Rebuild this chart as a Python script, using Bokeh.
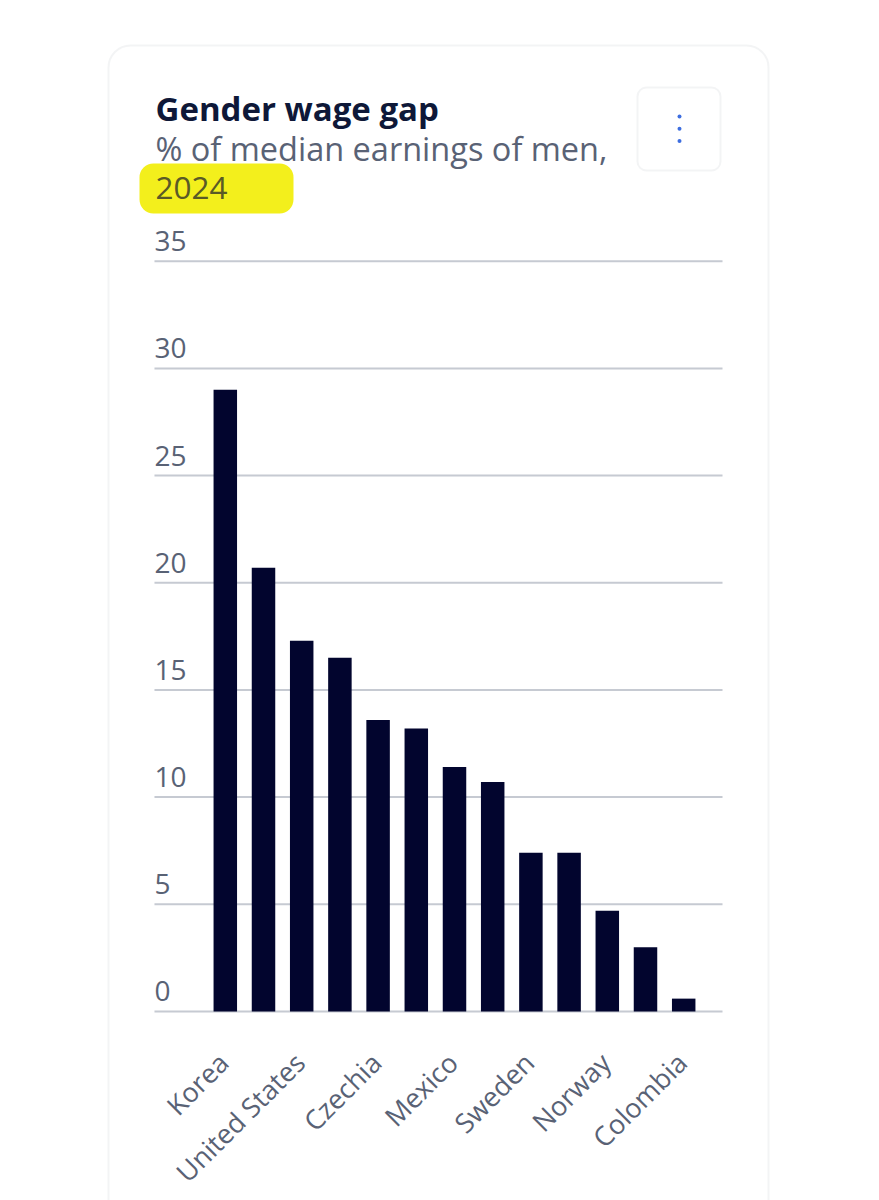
import math
from bokeh.plotting import figure
from bokeh.models import Range1d, BoxAnnotation, Label, ColumnDataSource
from bokeh.core.properties import value
from bokeh.embed import file_html
from bokeh.resources import INLINE

# ---- data ----
countries = ["Korea", "Japan", "United States", "Canada", "Czechia", "Germany", "Mexico",
             "France", "Sweden", "Denmark", "Norway", "Italy", "Colombia"]
gap = [29.0, 20.7, 17.3, 16.5, 13.6, 13.2, 11.4, 10.7, 7.4, 7.4, 4.7, 3.0, 0.6]
y_ticks = [0, 5, 10, 15, 20, 25, 30, 35]
title_text = "Gender wage gap"
subtitle_text = "% of median earnings of men,"
year_text = "2024"

# ---- styles ----
BAR = "#02052e"
GRID = "#c6cad2"
LABEL = "#596275"
TITLE = "#0e1838"
FONT = "Open Sans"

W, H = 863, 1200
positions = list(range(1, len(countries) + 1))
X0, X1 = -0.854, 14.016          # extent of the chart area (grid lines)

p = figure(width=W, height=H, output_backend="svg", toolbar_location=None,
           x_range=Range1d(-4.885, 17.707), y_range=Range1d(-8.817, 47.161),
           x_axis_location=None, y_axis_location=None, min_border=0)
p.outline_line_color = None
p.background_fill_color = "white"
p.border_fill_color = "white"
p.grid.visible = False

# grid lines
p.segment(x0=[X0] * len(y_ticks), x1=[X1] * len(y_ticks), y0=y_ticks, y1=y_ticks,
          line_color=GRID, line_width=2)

# bars
src = ColumnDataSource(dict(x=positions, gap=gap, name=countries))
p.vbar(x="x", top="gap", width=0.615, source=src, fill_color=BAR, line_color=None)

# y labels above grid lines
p.text(x=[X0] * len(y_ticks), y=y_ticks, text=[str(t) for t in y_ticks],
       text_align="left", text_baseline="middle", y_offset=-20,
       text_font=value(FONT), text_font_size="28px", text_color=LABEL)

# x labels: every other category, rotated 45 degrees
shown_x = positions[::2]
shown_names = countries[::2]
p.text(x=shown_x, y=[0] * len(shown_x), text=shown_names, angle=math.pi / 4,
       text_align="right", text_baseline="middle", x_offset=-2, y_offset=46,
       text_font=value(FONT), text_font_size="27px", text_color=LABEL)

def cbox(l, r, t, b, **kw):
    return BoxAnnotation(left=l, right=r, top=t, bottom=b,
                         left_units="canvas", right_units="canvas",
                         top_units="canvas", bottom_units="canvas", **kw)

# card border
p.add_layout(cbox(108, 768, 45, 1260, fill_alpha=0, line_color="#d6d9df",
                  line_width=2, border_radius=22))
# menu button
p.add_layout(cbox(637, 720, 87, 170, fill_color="white", fill_alpha=1,
                  line_color="#d6d9df", line_width=2, border_radius=9))
for cy in [116, 128.3, 140.5]:
    p.add_layout(cbox(677, 681, cy - 2, cy + 2, fill_color="#3d6ee0", fill_alpha=1,
                      line_color=None, border_radius=2))
# highlight
p.add_layout(cbox(139, 293, 163, 213, fill_color="#f3ef1c", fill_alpha=1,
                  line_color=None, border_radius=14))

p.add_layout(Label(x=155, y=108, x_units="canvas", y_units="canvas", text=title_text,
                   text_font=FONT, text_font_style="bold", text_font_size="33px",
                   text_color=TITLE, text_baseline="middle", text_align="left"))
p.add_layout(Label(x=155, y=147.5, x_units="canvas", y_units="canvas", text=subtitle_text,
                   text_font=FONT, text_font_size="32.5px",
                   text_color=LABEL, text_baseline="middle", text_align="left"))
p.add_layout(Label(x=155, y=187.5, x_units="canvas", y_units="canvas", text=year_text,
                   text_font=FONT, text_font_size="31.5px",
                   text_color="#5a5a26", text_baseline="middle", text_align="left"))

open("out.html", "w").write(file_html(p, INLINE))
